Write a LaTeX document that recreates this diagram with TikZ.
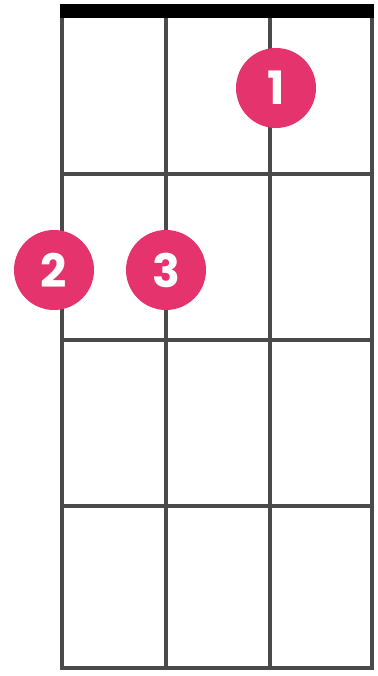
\documentclass[tikz,border=0pt]{standalone}
\usepackage{fontspec}
\setmainfont{Poppins}
\usepackage{xcolor}
\usetikzlibrary{positioning}
\definecolor{fingerpink}{HTML}{E5336D}
\definecolor{fretgray}{HTML}{4A4A4A}
\tikzset{
  fingerdot/.style={circle, fill=fingerpink, minimum size=80pt, inner sep=0pt,
    text=white, font=\fontsize{46}{46}\selectfont\bfseries},
  fretline/.style={draw=fretgray, line width=3.2pt},
  every picture/.style={line cap=rect, line join=miter}
}
\begin{document}
\begin{tikzpicture}[x=1pt, y=-1pt]
  \useasboundingbox (0,0) rectangle (377,676);
  % strings
  \foreach \sx in {62,166,270,372}
    \draw[fretline] (\sx,16) -- (\sx,668);
  % frets
  \foreach \fy in {174,340,506,668}
    \draw[fretline] (62,\fy) -- (372,\fy);
  % nut
  \fill[black] (60,4) rectangle (374,18);
  % fingers
  \node[fingerdot] (one) at (276,88) {1};
  \node[fingerdot] (two) at (54,270) {2};
  \node[fingerdot] (three) at (166,270) {3};
\end{tikzpicture}
\end{document}
